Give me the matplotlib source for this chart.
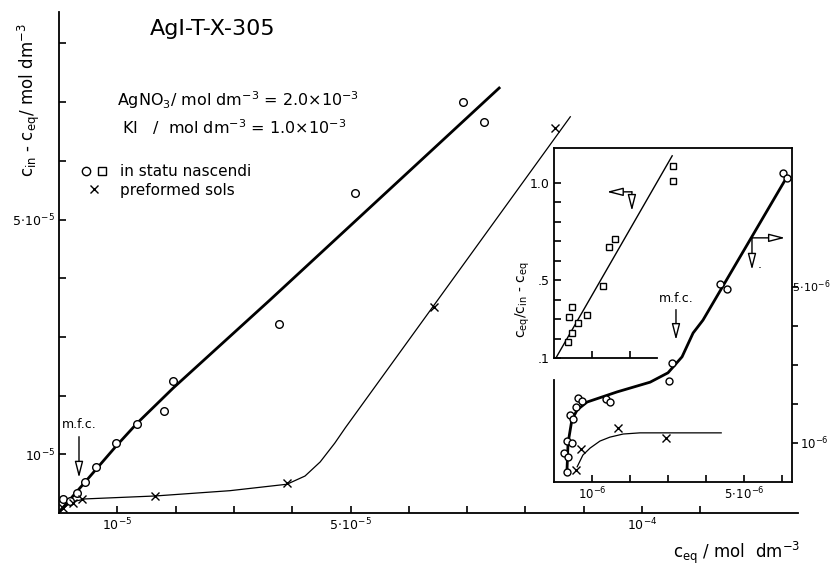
import matplotlib
matplotlib.use("Agg")
import matplotlib.pyplot as plt
from matplotlib.lines import Line2D
from matplotlib.legend_handler import HandlerTuple

W, H = 832, 569

# main plot, both axes in units of 1e-5 mol dm-3
nasc_x = [0.07, 0.19, 0.31, 0.45, 0.64, 0.98, 1.34, 1.80, 1.96, 3.77, 5.08, 6.93, 7.29]
nasc_y = [0.24, 0.20, 0.34, 0.53, 0.78, 1.19, 1.52, 1.74, 2.25, 3.22, 5.45, 7.00, 6.66]
nasc_fit_x = [0.03, 0.45, 0.98, 1.34, 1.96, 3.62, 7.55]
nasc_fit_y = [0.05, 0.53, 1.14, 1.53, 2.13, 3.63, 7.24]
pref_x = [0.07, 0.24, 0.40, 1.65, 3.91, 6.43, 8.51]
pref_y = [0.09, 0.17, 0.24, 0.29, 0.51, 3.51, 6.56]
pref_fit_x = [0.0, 0.05, 0.15, 0.27, 0.45, 1.65, 2.93, 3.91, 4.22, 4.48, 4.73, 4.91, 8.77]
pref_fit_y = [0.0, 0.05, 0.14, 0.20, 0.24, 0.29, 0.38, 0.49, 0.63, 0.87, 1.19, 1.45, 6.75]

main_xticks = [1, 2, 3, 4, 5, 6, 7, 8, 9, 10, 11]
main_xlabels = {1: r"$10^{-5}$", 5: r"$5\!\cdot\!10^{-5}$", 10: r"$10^{-4}$"}
main_yticks = [1, 2, 3, 4, 5, 6, 7, 8]
main_ylabels = {1: r"$10^{-5}$", 5: r"$5\!\cdot\!10^{-5}$"}

# inset, x and right y in units of 1e-6 mol dm-3
ins_circ_x = [0.34, 0.26, 0.37, 0.34, 0.47, 0.42, 0.50, 0.58, 0.63, 0.74, 1.37, 1.47,
              3.03, 3.11, 4.37, 4.55, 6.03, 6.13]
ins_circ_y = [0.26, 0.74, 0.64, 1.05, 1.00, 1.72, 1.62, 1.92, 2.15, 2.08, 2.13, 2.05,
              2.59, 3.05, 5.08, 4.95, 7.92, 7.80]
ins_circ_fit_x = [0.34, 0.37, 0.47, 0.61, 0.87, 1.66, 2.53, 3.00, 3.37, 3.66, 3.92, 6.08]
ins_circ_fit_y = [0.26, 1.00, 1.59, 1.85, 2.05, 2.31, 2.56, 2.80, 3.21, 3.82, 4.15, 7.74]
ins_cross_x = [0.58, 0.71, 1.68, 2.95]
ins_cross_y = [0.31, 0.85, 1.39, 1.13]
ins_cross_fit_x = [0.61, 0.76, 0.95, 1.21, 1.47, 1.82, 2.26, 4.40]
ins_cross_fit_y = [0.39, 0.69, 0.87, 1.05, 1.15, 1.23, 1.26, 1.26]

# inset upper part: c_eq / (c_in - c_eq)
sq_x = [3.13, 3.13, 1.61, 1.45, 1.29, 0.47, 0.40, 0.87, 0.63, 0.47, 0.37]
sq_y = [1.09, 1.01, 0.71, 0.67, 0.47, 0.36, 0.31, 0.32, 0.28, 0.23, 0.18]
sq_fit_x = [0.05, 3.11]
sq_fit_y = [0.10, 1.14]


def box(x0, y0, x1, y1):
    return [x0 / W, 1 - y1 / H, (x1 - x0) / W, (y1 - y0) / H]


def fpos(x, y):
    return x / W, 1 - y / H


open_mk = dict(ls="none", mfc="white", mec="black", mew=1.0)
arrow = dict(arrowstyle="-|>,head_length=0.7,head_width=0.18", fc="white",
             ec="black", lw=1.0, shrinkA=0, shrinkB=0, mutation_scale=14)

fig = plt.figure(figsize=(W / 100, H / 100), dpi=100)

ax = fig.add_axes(box(59, 12, 798, 513))
ax.set_xlim(0, 739 / 58.3)
ax.set_ylim(0, 501 / 58.7)
for s in ["top", "right"]:
    ax.spines[s].set_visible(False)
for s in ["left", "bottom"]:
    ax.spines[s].set_linewidth(1.3)
ax.set_xticks(main_xticks)
ax.set_xticklabels([main_xlabels.get(t, "") for t in main_xticks])
ax.set_yticks(main_yticks)
ax.set_yticklabels([main_ylabels.get(t, "") for t in main_yticks])
ax.tick_params(direction="in", length=5, width=1.2, labelsize=9, pad=3)

ax.plot(nasc_fit_x, nasc_fit_y, color="black", lw=2.0, zorder=2)
ax.plot(pref_fit_x, pref_fit_y, color="black", lw=0.9, zorder=2)
ax.plot(nasc_x, nasc_y, marker="o", ms=5.5, zorder=3, **open_mk)
ax.plot(pref_x, pref_y, marker="x", ms=5.5, color="black", ls="none", mew=1.0, zorder=3)

ax.annotate("", xy=(0.343, 0.60), xytext=(0.343, 1.30), arrowprops=arrow)
ax.text(0.343, 1.40, "m.f.c.", ha="center", va="bottom", fontsize=9)

h_c = Line2D([], [], marker="o", ms=6, **open_mk)
h_s = Line2D([], [], marker="s", ms=5.5, **open_mk)
h_x = Line2D([], [], marker="x", ms=6, color="black", ls="none", mew=1.0)
ax.legend([(h_c, h_s), h_x], ["in statu nascendi", "preformed sols"],
          handler_map={tuple: HandlerTuple(ndivide=None, pad=0.3)},
          loc="upper left", bbox_to_anchor=fpos(80, 164), bbox_transform=fig.transFigure,
          frameon=False, fontsize=11, handlelength=1.8, handletextpad=0.8,
          labelspacing=0.25, borderpad=0, borderaxespad=0)

fig.text(*fpos(213, 29), "AgI-T-X-305", fontsize=16, ha="center", va="center")
fig.text(*fpos(117, 100), r"AgNO$_3$/ mol dm$^{-3}$ = 2.0$\times$10$^{-3}$",
         fontsize=11.5, ha="left", va="center")
fig.text(*fpos(122, 127), r"KI   /  mol dm$^{-3}$ = 1.0$\times$10$^{-3}$",
         fontsize=11.5, ha="left", va="center")
fig.text(*fpos(29, 100), r"c$_{\rm in}$ - c$_{\rm eq}$/ mol dm$^{-3}$",
         fontsize=12, rotation=90, ha="center", va="center")
fig.text(*fpos(800, 553), r"c$_{\rm eq}$ / mol  dm$^{-3}$",
         fontsize=12, ha="right", va="center")

# inset, lower curves against the right axis
axi = fig.add_axes(box(554, 148, 792, 482))
axi.set_xlim(0, 238 / 38)
axi.set_ylim(0, 334 / 39)
axi.patch.set_visible(False)
for s in axi.spines.values():
    s.set_linewidth(1.3)
axi.spines["left"].set_bounds(0, 102 / 39)
axi.yaxis.tick_right()
axi.set_yticks([1, 2, 3, 4, 5])
axi.set_yticklabels([r"$10^{-6}$", "", "", "", ""])
axi.set_xticks([1, 2, 3, 4, 5, 6])
axi.set_xticklabels([r"$10^{-6}$", "", "", "", r"$5\!\cdot\!10^{-6}$", ""])
axi.tick_params(axis="y", direction="out", length=4, width=1.2, labelsize=8.5, pad=2)
axi.tick_params(axis="x", direction="in", length=5, width=1.2, labelsize=8.5, pad=3)
# right-edge label kept inside the canvas
fig.text(*fpos(830, 287), r"$5\!\cdot\!10^{-6}$", fontsize=8, ha="right", va="center")

axi.plot(ins_circ_fit_x, ins_circ_fit_y, color="black", lw=2.0, zorder=2)
axi.plot(ins_cross_fit_x, ins_cross_fit_y, color="black", lw=0.9, zorder=2)
axi.plot(ins_circ_x, ins_circ_y, marker="o", ms=5, zorder=3, **open_mk)
axi.plot(ins_cross_x, ins_cross_y, marker="x", ms=5.5, color="black", ls="none",
         mew=1.0, zorder=3)

axi.annotate("", xy=(3.21, 3.64), xytext=(3.21, 4.42), arrowprops=arrow)
axi.text(3.21, 4.55, "m.f.c.", ha="center", va="bottom", fontsize=9)
axi.annotate("", xy=(1.39, 7.44), xytext=(2.05, 7.44), arrowprops=arrow)
axi.annotate("", xy=(2.05, 6.95), xytext=(2.05, 7.44), arrowprops=arrow)
axi.annotate("", xy=(6.08, 6.26), xytext=(5.21, 6.26), arrowprops=arrow)
axi.annotate("", xy=(5.21, 5.44), xytext=(5.21, 6.26), arrowprops=arrow)
axi.text(5.42, 5.41, ".", fontsize=9, ha="center", va="bottom")

# inset, upper squares against the left axis
axs = fig.add_axes(box(554, 148, 657, 358))
axs.set_xlim(0, 103 / 38)
axs.set_ylim(0.1, 0.1 + 210 / 194.4)
axs.patch.set_visible(False)
for s in ["top", "right"]:
    axs.spines[s].set_visible(False)
for s in ["left", "bottom"]:
    axs.spines[s].set_linewidth(1.3)
up_ticks = [0.1, 0.2, 0.3, 0.4, 0.5, 0.6, 0.7, 0.8, 0.9, 1.0]
up_labels = {0.1: ".1", 0.5: ".5", 1.0: "1.0"}
axs.set_yticks(up_ticks)
axs.set_yticklabels([up_labels.get(t, "") for t in up_ticks])
axs.set_xticks([1, 2])
axs.set_xticklabels(["", ""])
axs.tick_params(direction="in", length=5, width=1.2, labelsize=9, pad=3)
axs.plot(sq_fit_x, sq_fit_y, color="black", lw=1.0, zorder=2, clip_on=False)
axs.plot(sq_x, sq_y, marker="s", ms=5, zorder=3, clip_on=False, **open_mk)

fig.text(*fpos(523, 300), r"c$_{\rm eq}$/c$_{\rm in}$ - c$_{\rm eq}$",
         fontsize=10, rotation=90, ha="center", va="center")

fig.savefig("out.png", dpi=100)
